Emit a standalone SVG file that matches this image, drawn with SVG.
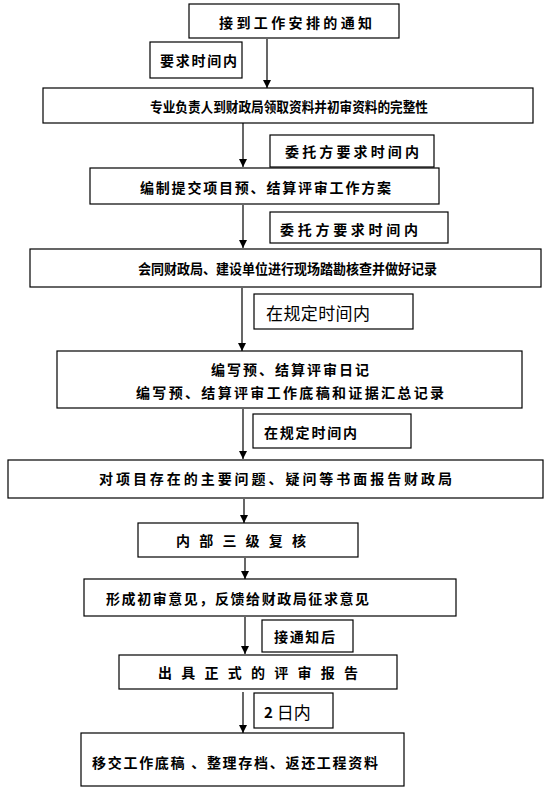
<svg xmlns="http://www.w3.org/2000/svg" width="559" height="791" viewBox="0 0 559 791">
<style>
  .box{fill:#fff;stroke:#000;stroke-width:1.2}
  .t{font-family:"Noto Sans CJK SC","Liberation Sans",sans-serif;font-size:14px;font-weight:bold;fill:#000;dominant-baseline:central}
  .big{font-size:17px;font-weight:normal}
  .edge{stroke:#000;stroke-width:1.2;fill:none;marker-end:url(#ah)}
</style>
<defs>
  <marker id="ah" markerUnits="userSpaceOnUse" markerWidth="8" markerHeight="10" refX="8" refY="4" orient="auto">
    <path d="M0,0 L8,4 L0,8 Z" fill="#000"/>
  </marker>
</defs>
<rect width="559" height="791" fill="#fff"/>
<g id="connectors">
  <line class="edge" x1="267" y1="39" x2="267" y2="88"/>
  <line class="edge" x1="243" y1="123" x2="243" y2="167"/>
  <line class="edge" x1="243" y1="205" x2="243" y2="248"/>
  <line class="edge" x1="242" y1="288" x2="242" y2="351"/>
  <line class="edge" x1="243" y1="409" x2="243" y2="459"/>
  <line class="edge" x1="244" y1="499" x2="244" y2="523"/>
  <line class="edge" x1="245" y1="558" x2="245" y2="579"/>
  <line class="edge" x1="245" y1="617" x2="245" y2="654"/>
  <line class="edge" x1="243" y1="692" x2="243" y2="733"/>
</g>
<g id="n1"><rect class="box" x="189" y="4" width="210" height="34"/><text class="t" x="219" y="22" textLength="153" lengthAdjust="spacing">接到工作安排的通知</text></g>
<g id="l1"><rect class="box" x="150" y="42" width="92" height="36"/><text class="t" x="160" y="60" textLength="77" lengthAdjust="spacing">要求时间内</text></g>
<g id="n2"><rect class="box" x="43" y="88" width="490" height="35"/><text class="t" x="150" y="106" textLength="278" lengthAdjust="spacingAndGlyphs">专业负责人到财政局领取资料并初审资料的完整性</text></g>
<g id="l2"><rect class="box" x="270" y="135" width="164" height="32"/><text class="t" x="285" y="151" textLength="134" lengthAdjust="spacing">委托方要求时间内</text></g>
<g id="n3"><rect class="box" x="90" y="168" width="349" height="36"/><text class="t" x="140" y="187" textLength="251" lengthAdjust="spacing">编制提交项目预、结算评审工作方案</text></g>
<g id="l3"><rect class="box" x="270" y="212" width="178" height="31"/><text class="t" x="280" y="229" textLength="138" lengthAdjust="spacing">委托方要求时间内</text></g>
<g id="n4"><rect class="box" x="30" y="249" width="511" height="38"/><text class="t" x="138" y="268" textLength="299" lengthAdjust="spacingAndGlyphs">会同财政局、建设单位进行现场踏勘核查并做好记录</text></g>
<g id="l4"><rect class="box" x="254" y="294" width="159" height="35"/><text class="t big" x="266" y="312" textLength="104" lengthAdjust="spacing">在规定时间内</text></g>
<g id="n5"><rect class="box" x="57" y="351" width="465" height="57"/><text class="t" x="211" y="369" textLength="158" lengthAdjust="spacing">编写预、结算评审日记</text><text class="t" x="136" y="392" textLength="308" lengthAdjust="spacing">编写预、结算评审工作底稿和证据汇总记录</text></g>
<g id="l5"><rect class="box" x="253" y="414" width="158" height="34"/><text class="t" x="264" y="432" textLength="93" lengthAdjust="spacing">在规定时间内</text></g>
<g id="n6"><rect class="box" x="8" y="460" width="535" height="38"/><text class="t" x="99" y="478" textLength="353" lengthAdjust="spacing">对项目存在的主要问题、疑问等书面报告财政局</text></g>
<g id="n7"><rect class="box" x="138" y="523" width="220" height="34"/><text class="t" x="176" y="540" textLength="130" lengthAdjust="spacing">内 部 三 级 复 核</text></g>
<g id="n8"><rect class="box" x="84" y="579" width="372" height="37"/><text class="t" x="106" y="598" textLength="263" lengthAdjust="spacing">形成初审意见，反馈给财政局征求意见</text></g>
<g id="l6"><rect class="box" x="262" y="620" width="91" height="32"/><text class="t" x="274" y="636" textLength="61" lengthAdjust="spacing">接通知后</text></g>
<g id="n9"><rect class="box" x="119" y="655" width="278" height="34"/><text class="t" x="158" y="672" textLength="200" lengthAdjust="spacing">出 具 正 式 的 评 审 报 告</text></g>
<g id="l7"><rect class="box" x="254" y="693" width="79" height="35"/><text class="t big" x="264" y="711"><tspan font-weight="bold" font-size="15">2</tspan> 日内</text></g>
<g id="n10"><rect class="box" x="81" y="733" width="323" height="53"/><text class="t" x="92" y="762" textLength="286" lengthAdjust="spacing">移交工作底稿 、整理存档、返还工程资料</text></g>
</svg>
